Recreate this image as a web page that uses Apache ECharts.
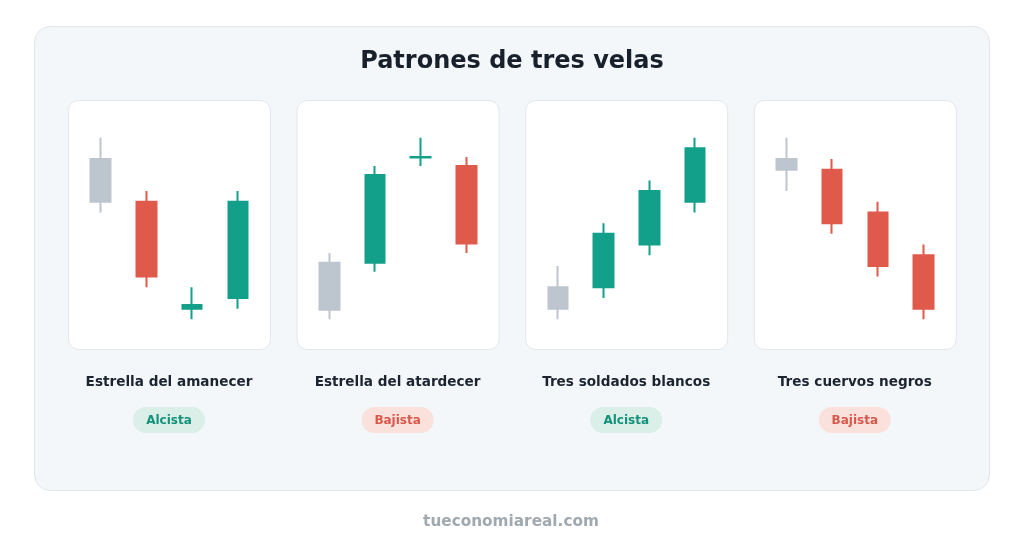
<!DOCTYPE html>
<html>
<head>
<meta charset="utf-8">
<script src="https://cdn.jsdelivr.net/npm/echarts@6/dist/echarts.min.js"></script>
<style>
  html, body { margin: 0; padding: 0; background: #ffffff; }
  #chart { width: 1024px; height: 553px; }
</style>
</head>
<body>
<div id="chart"></div>
<script>
// ---- Data (each candle: [open, close, low, high]) ----
const categories = ['1', '2', '3', '4'];
const patternNames = ['Estrella del amanecer', 'Estrella del atardecer', 'Tres soldados blancos', 'Tres cuervos negros'];
const patternSignals = ['Alcista', 'Bajista', 'Alcista', 'Bajista'];
const morningStar = [[15, 11, 10, 17], [11, 4, 3, 12], [1, 1.35, 0, 3], [2, 11, 1, 12]];
const eveningStar = [[0.9, 5.3, 0, 6.2], [5.3, 13.5, 4.45, 14.35], [15.15, 15.2, 14.35, 17], [14.35, 7.1, 6.2, 15.2]];
const threeSoldiers = [[1, 3, 0, 5], [3, 8, 2, 9], [7, 12, 6, 13], [11, 16, 10, 17]];
const threeCrows = [[14, 15, 12, 17], [14, 9, 8, 15], [10, 5, 4, 11], [6, 1, 0, 7]];
const panels = [morningStar, eveningStar, threeSoldiers, threeCrows];

const GREEN = '#13a08a', RED = '#e05a4c', GRAY = '#bdc5ce';
const chart = echarts.init(document.getElementById('chart'), null, { renderer: 'canvas' });

const cardX0 = 68, cardStep = 228.6, cardW = 202, cardTop = 100, cardH = 249;
const grids = [], xAxes = [], yAxes = [], series = [], graphics = [];

// Outer card
graphics.push({ type: 'rect', z: 0, shape: { x: 34.5, y: 26.5, width: 955, height: 464, r: 16 },
  style: { fill: '#f3f7fa', stroke: '#dfe5ea', lineWidth: 1 } });
graphics.push({ type: 'text', z: 1, style: { text: 'Patrones de tres velas', x: 512, y: 62, textAlign: 'center', textVerticalAlign: 'middle',
  fill: '#17202b', font: 'bold 24px "DejaVu Sans"' } });
graphics.push({ type: 'text', z: 1, style: { text: 'tueconomiareal.com', x: 511, y: 522, textAlign: 'center', textVerticalAlign: 'middle',
  fill: '#a0a9b0', font: 'bold 15.3px "DejaVu Sans"' } });

panels.forEach((data, i) => {
  const cx = cardX0 + cardStep * i;
  const center = cx + cardW / 2;
  const bull = patternSignals[i] === 'Alcista';
  graphics.push({ type: 'rect', z: 1, shape: { x: cx + 0.5, y: cardTop + 0.5, width: cardW, height: cardH, r: 10 },
    style: { fill: '#ffffff', stroke: '#e2e7eb', lineWidth: 1 } });
  graphics.push({ type: 'text', z: 1, style: { text: patternNames[i], x: center, y: 382.5, textAlign: 'center', textVerticalAlign: 'middle',
    fill: '#1c2430', font: 'bold 13.6px "DejaVu Sans"' } });
  graphics.push({ type: 'rect', z: 1, shape: { x: center - 36, y: 407, width: 72, height: 26, r: 13 },
    style: { fill: bull ? '#d9efe8' : '#fbe1dc' } });
  graphics.push({ type: 'text', z: 2, style: { text: patternSignals[i], x: center, y: 420.5, textAlign: 'center', textVerticalAlign: 'middle',
    fill: bull ? '#14917a' : '#d8584b', font: 'bold 12px "DejaVu Sans"' } });

  grids.push({ left: cx + 9.9, width: 182.7, top: 127, height: 203 });
  xAxes.push({ type: 'category', gridIndex: i, data: categories, show: false, boundaryGap: true });
  yAxes.push({ type: 'value', gridIndex: i, min: -1, max: 18, show: false, splitLine: { show: false } });
  series.push({
    type: 'candlestick', xAxisIndex: i, yAxisIndex: i, z: 5, barWidth: 20,
    itemStyle: { color: GREEN, color0: RED, borderColor: GREEN, borderColor0: RED, borderWidth: 2 },
    emphasis: { disabled: true },
    data: data.map((v, j) => j === 0
      ? { value: v, itemStyle: { color: GRAY, color0: GRAY, borderColor: GRAY, borderColor0: GRAY } }
      : v)
  });
});

chart.setOption({
  animation: false,
  backgroundColor: '#ffffff',
  grid: grids, xAxis: xAxes, yAxis: yAxes, series: series,
  graphic: graphics
});
</script>
</body>
</html>
